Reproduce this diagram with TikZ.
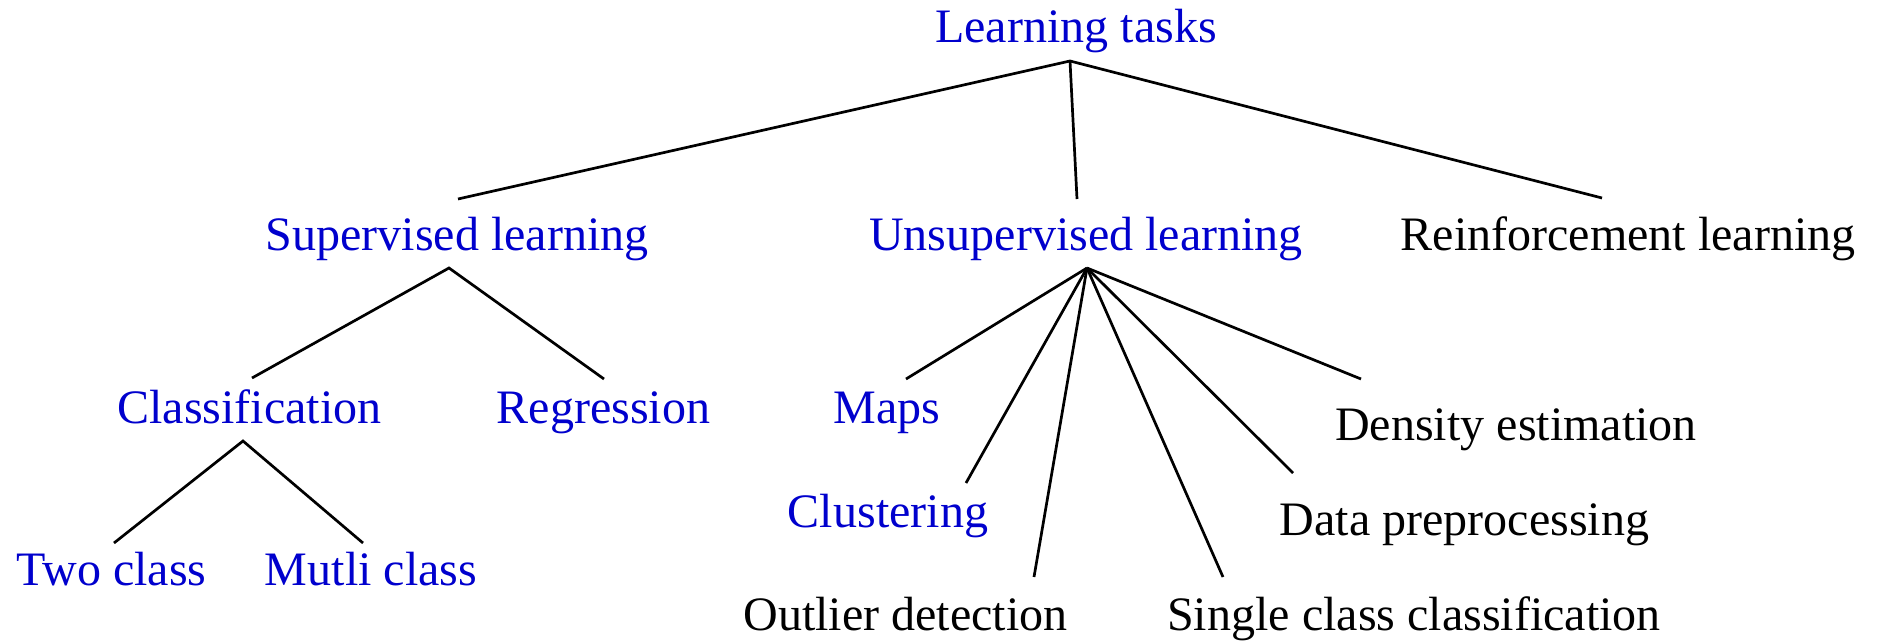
\documentclass[tikz,border=0pt]{standalone}
\usepackage{fontspec}
\setmainfont{Liberation Serif}
\newfontfamily\tnrfont{Liberation Serif}
\definecolor{labblue}{RGB}{0,0,205}
\begin{document}
\begin{tikzpicture}[x=1bp,y=-1bp,
  lbl/.style={inner sep=0pt,anchor=base,font=\tnrfont\fontsize{48.2pt}{58pt}\selectfont},
  blu/.style={lbl,text=labblue},
  blk/.style={lbl,text=black},
  edge/.style={draw=black,line width=2.7bp}]
\useasboundingbox (0,0) rectangle (1884,641);
% nodes
\node[blu] (lt) at (1076,43) {Learning tasks};
\node[blu] (sup) at (457,251) {Supervised learning};
\node[blu] (uns) at (1086,251) {Unsupervised learning};
\node[blk] (rl) at (1628,251) {Reinforcement learning};
\node[blu] (cls) at (249.5,423) {Classification};
\node[blu] (reg) at (603.5,423) {Regression};
\node[blu] (two) at (111.5,585) {Two class};
\node[blu] (mul) at (371,585) {Mutli class};
\node[blu] (maps) at (887,423) {Maps};
\node[blu] (clu) at (888,527) {Clustering};
\node[blk] (out) at (905.5,630) {Outlier detection};
\node[blk] (sgl) at (1414,630) {Single class classification};
\node[blk] (dat) at (1464.5,535) {Data preprocessing};
\node[blk] (den) at (1516,440) {Density estimation};
% connector points
\coordinate (lt-b) at (1070,61);
\coordinate (sup-t) at (458,199);
\coordinate (uns-t) at (1077,199);
\coordinate (rl-t) at (1602,198);
\coordinate (sup-b) at (449,268);
\coordinate (cls-t) at (252,378);
\coordinate (reg-t) at (604,379);
\coordinate (cls-b) at (243,441);
\coordinate (two-t) at (114,543);
\coordinate (mul-t) at (363,543);
\coordinate (uns-b) at (1087,268);
\coordinate (maps-t) at (906,379);
\coordinate (clu-t) at (966,483);
\coordinate (out-t) at (1034,577);
\coordinate (sgl-t) at (1223,577);
\coordinate (dat-t) at (1293,473);
\coordinate (den-t) at (1361,379);
% connectors
\draw[edge] (sup-t) -- (lt-b) -- (rl-t);
\draw[edge] (lt-b) -- (uns-t);
\draw[edge] (cls-t) -- (sup-b) -- (reg-t);
\draw[edge] (two-t) -- (cls-b) -- (mul-t);
\draw[edge] (uns-b) -- (maps-t);
\draw[edge] (uns-b) -- (clu-t);
\draw[edge] (uns-b) -- (out-t);
\draw[edge] (uns-b) -- (sgl-t);
\draw[edge] (uns-b) -- (dat-t);
\draw[edge] (uns-b) -- (den-t);
\end{tikzpicture}
\end{document}
